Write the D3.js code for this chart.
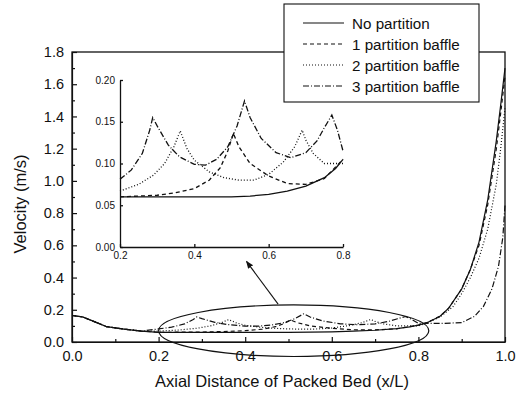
<!DOCTYPE html>
<html><head><meta charset="utf-8">
<script src="https://cdn.jsdelivr.net/npm/d3@7"></script>
<style>
body{margin:0;background:#fff;}
svg{display:block;font-family:"Liberation Sans",Arial,sans-serif;}
</style></head>
<body><svg id="chart" width="529" height="394"></svg>
<script>
// ---- data ----
const seriesNames = ["No partition","1 partition baffle","2 partition baffle","3 partition baffle"];
const commonStart = [[0,0.165],[0.025,0.155],[0.05,0.128],[0.08,0.095],[0.12,0.08],[0.16,0.068]];
const noPartition = [[0.2,0.06],[0.3,0.06],[0.4,0.06],[0.5,0.06],[0.55,0.061],[0.6,0.063],[0.65,0.067],[0.7,0.073],[0.75,0.083],[0.78,0.094],[0.8,0.105],[0.82,0.12],[0.85,0.16],[0.87,0.21],[0.9,0.33],[0.92,0.45],[0.94,0.62],[0.96,0.88],[0.98,1.25],[0.99,1.47],[1.0,1.7]];
const onePartition = [[0.2,0.06],[0.3,0.062],[0.35,0.065],[0.4,0.07],[0.44,0.08],[0.47,0.095],[0.49,0.115],[0.505,0.136],[0.52,0.12],[0.55,0.1],[0.6,0.085],[0.65,0.076],[0.7,0.075],[0.75,0.082],[0.8,0.105],[0.82,0.12],[0.85,0.16],[0.87,0.21],[0.9,0.33],[0.92,0.45],[0.94,0.6],[0.96,0.85],[0.98,1.2],[0.99,1.42],[1.0,1.65]];
const twoPartition = [[0.2,0.067],[0.25,0.075],[0.29,0.086],[0.32,0.1],[0.345,0.12],[0.362,0.139],[0.38,0.118],[0.4,0.104],[0.44,0.09],[0.48,0.083],[0.52,0.08],[0.56,0.08],[0.6,0.087],[0.64,0.102],[0.67,0.12],[0.69,0.14],[0.7,0.128],[0.72,0.112],[0.75,0.1],[0.8,0.1],[0.82,0.12],[0.85,0.155],[0.88,0.22],[0.9,0.3],[0.92,0.4],[0.94,0.52],[0.96,0.7],[0.98,0.98],[0.99,1.2],[1.0,1.45]];
const threePartition = [[0.2,0.081],[0.23,0.092],[0.26,0.112],[0.28,0.14],[0.288,0.155],[0.3,0.145],[0.33,0.122],[0.36,0.108],[0.4,0.099],[0.43,0.098],[0.46,0.105],[0.49,0.12],[0.515,0.145],[0.535,0.175],[0.55,0.155],[0.58,0.13],[0.62,0.113],[0.66,0.107],[0.7,0.113],[0.73,0.127],[0.75,0.143],[0.77,0.158],[0.785,0.14],[0.8,0.115],[0.85,0.115],[0.9,0.12],[0.93,0.16],[0.95,0.22],[0.97,0.33],[0.985,0.47],[0.995,0.65],[1.0,0.85]];
const dashStyles = ["none","4,3","1,2","6,2,1,2"];
const mainXTicks = [0,0.2,0.4,0.6,0.8,1.0];
const mainYTicks = [0,0.2,0.4,0.6,0.8,1.0,1.2,1.4,1.6,1.8];
const insetXTicks = [0.2,0.4,0.6,0.8];
const insetYTicks = [0,0.05,0.1,0.15,0.2];

const allSeries = [noPartition,onePartition,twoPartition,threePartition].map(s=>commonStart.concat(s));

const svg = d3.select("#chart");
// ---- main plot ----
const x = d3.scaleLinear().domain([0,1]).range([72,505]);
const y = d3.scaleLinear().domain([0,1.8]).range([342,52]);

const line = d3.line().x(d=>x(d[0])).y(d=>y(d[1]));
const g = svg.append("g");
allSeries.forEach((s,i)=>{
  g.append("path").attr("d",line(s)).attr("fill","none").attr("stroke","#111")
   .attr("stroke-width",1.2).attr("stroke-dasharray",dashStyles[i]);
});

// frame
svg.append("rect").attr("x",x(0)).attr("y",y(1.8)).attr("width",x(1)-x(0)).attr("height",y(0)-y(1.8))
  .attr("fill","none").attr("stroke","#111").attr("stroke-width",1.3);

const xAxis = d3.axisBottom(x).tickValues(mainXTicks).tickFormat(d3.format(".1f")).tickSizeInner(-5).tickSizeOuter(0).tickPadding(9);
const gx = svg.append("g").attr("transform",`translate(0,${y(0)})`).call(xAxis);
const xMinor = d3.axisBottom(x).tickValues(d3.range(0.1,1,0.2)).tickFormat("").tickSizeInner(-3).tickSizeOuter(0);
svg.append("g").attr("transform",`translate(0,${y(0)})`).call(xMinor).select(".domain").remove();
const yAxis = d3.axisLeft(y).tickValues(mainYTicks).tickFormat(d3.format(".1f")).tickSizeInner(-5).tickSizeOuter(0).tickPadding(8);
const gy = svg.append("g").attr("transform",`translate(${x(0)},0)`).call(yAxis);
const yMinor = d3.axisLeft(y).tickValues(d3.range(0.1,1.8,0.2)).tickFormat("").tickSizeInner(-3).tickSizeOuter(0);
svg.append("g").attr("transform",`translate(${x(0)},0)`).call(yMinor).select(".domain").remove();
svg.selectAll(".tick text").attr("font-size",14.5).attr("fill","#111").attr("font-family","Liberation Sans, Arial, sans-serif");
svg.selectAll(".tick line, .domain").attr("stroke","#111").attr("stroke-width",1.2);

svg.append("text").attr("x",282).attr("y",387).attr("text-anchor","middle").attr("font-size",16.5).attr("fill","#111")
  .text("Axial Distance of Packed Bed (x/L)");
svg.append("text").attr("transform",`translate(26,${(y(0)+y(1.8))/2+7}) rotate(-90)`).attr("text-anchor","middle")
  .attr("font-size",16.5).attr("fill","#111").text("Velocity (m/s)");

// ellipse + arrow annotation
svg.append("ellipse").attr("cx",x(0.512)).attr("cy",y(0.07)).attr("rx",x(0.8)-x(0.488)).attr("ry",y(0)-y(0.16))
  .attr("fill","none").attr("stroke","#111").attr("stroke-width",1.2);
svg.append("defs").append("marker").attr("id","ah").attr("viewBox","0 0 10 10").attr("refX",9).attr("refY",5)
  .attr("markerWidth",7).attr("markerHeight",7).attr("orient","auto")
  .append("path").attr("d","M0,1 L10,5 L0,9 Z").attr("fill","#111");
svg.append("line").attr("x1",x(0.476)).attr("y1",y(0.235)).attr("x2",x(0.403)).attr("y2",y(0.5))
  .attr("stroke","#111").attr("stroke-width",1.1).attr("marker-end","url(#ah)");

// ---- inset ----
const xi = d3.scaleLinear().domain([0.2,0.8]).range([120,343]);
const yi = d3.scaleLinear().domain([0,0.2]).range([247,80]);
const linei = d3.line().x(d=>xi(d[0])).y(d=>yi(d[1]));
const gi = svg.append("g");
allSeries.forEach((s,i)=>{
  const sub = s.filter(d=>d[0]>=0.2 && d[0]<=0.8);
  gi.append("path").attr("d",linei(sub)).attr("fill","none").attr("stroke","#111")
   .attr("stroke-width",1.3).attr("stroke-dasharray",dashStyles[i]);
});
const xiAxis = d3.axisBottom(xi).tickValues(insetXTicks).tickFormat(d3.format(".1f")).tickSizeInner(-3).tickSizeOuter(0).tickPadding(5);
const giX = svg.append("g").attr("transform",`translate(0,${yi(0)})`).call(xiAxis);
const yiAxis = d3.axisLeft(yi).tickValues(insetYTicks).tickFormat(d3.format(".2f")).tickSizeInner(-3).tickSizeOuter(0).tickPadding(5);
const giY = svg.append("g").attr("transform",`translate(${xi(0.2)},0)`).call(yiAxis);
[giX,giY].forEach(a=>{a.selectAll("text").attr("font-size",10).attr("fill","#111").attr("font-family","Liberation Sans, Arial, sans-serif");
  a.selectAll("line,.domain").attr("stroke","#111").attr("stroke-width",1.3);});

// ---- legend ----
const lg = svg.append("g");
lg.append("rect").attr("x",284).attr("y",4).attr("width",195).attr("height",98).attr("fill","#fff").attr("stroke","#111").attr("stroke-width",1.1);
seriesNames.forEach((n,i)=>{
  const yy = 23 + i*21;
  lg.append("line").attr("x1",303).attr("x2",344).attr("y1",yy).attr("y2",yy).attr("stroke","#111")
    .attr("stroke-width",1.1).attr("stroke-dasharray",dashStyles[i]);
  lg.append("text").attr("x",352).attr("y",yy+5.5).attr("font-size",15.2).attr("fill","#111").text(n);
});
</script></body></html>
